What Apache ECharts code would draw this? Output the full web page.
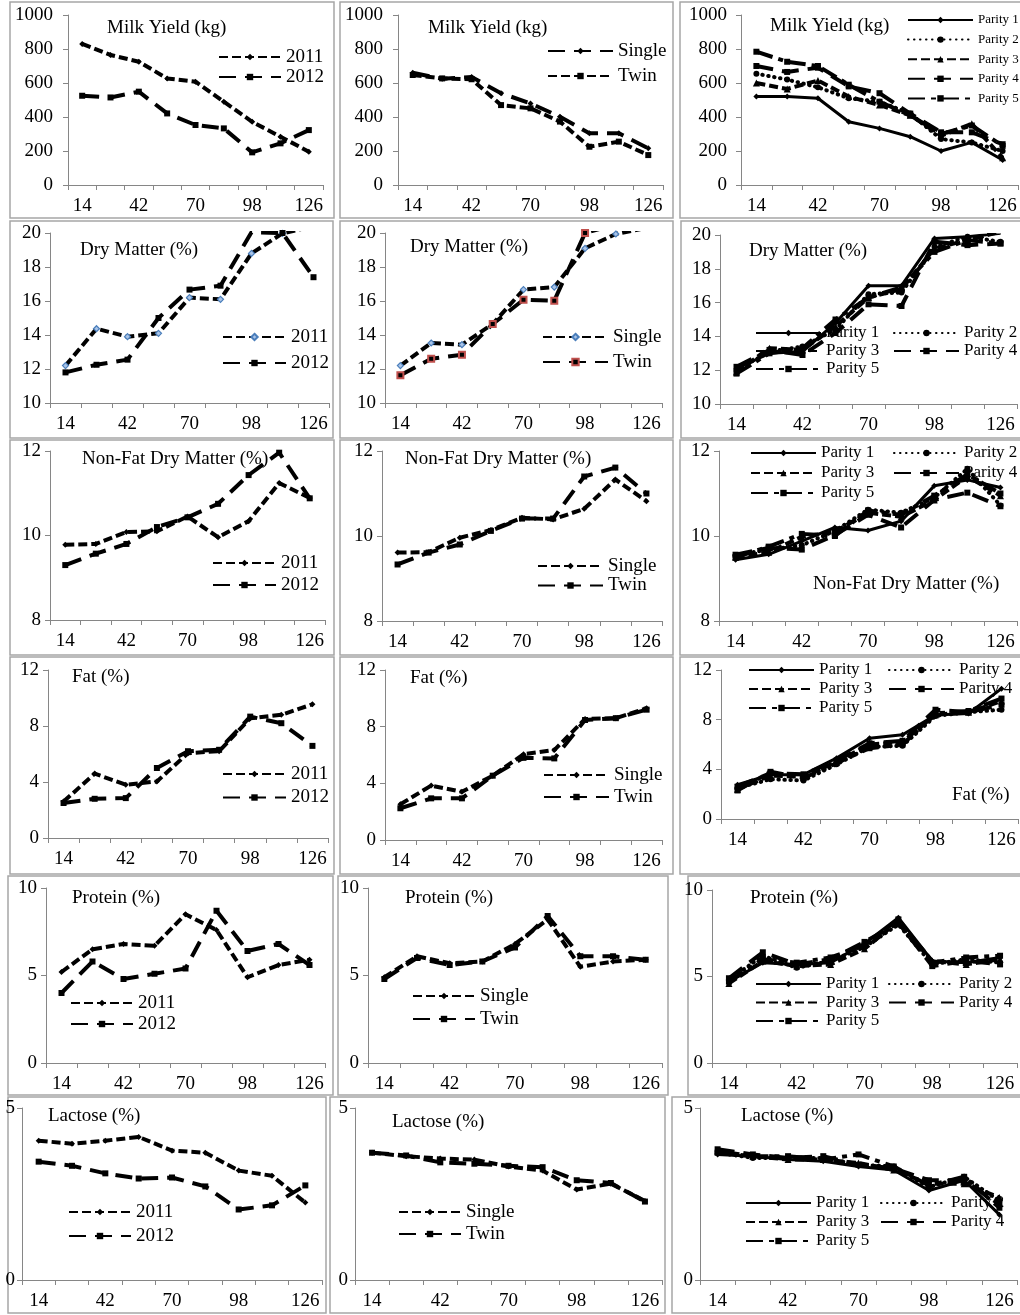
<!DOCTYPE html>
<html><head><meta charset="utf-8">
<script src="https://cdn.jsdelivr.net/npm/echarts@6/dist/echarts.min.js"></script>
<style>html,body{margin:0;padding:0;background:#fff}#c{width:1020px;height:1315px}</style>
</head><body><div id="c"></div>
<script>
// ---------------- data ----------------
const days = ['14','28','42','56','70','84','98','112','126'];

const yMilk = [0, 1000, 200];
const yDry = [10, 20, 2];
const yNfdm = [8, 12, 2];
const yFat = [0, 12, 4];
const yProt = [0, 10, 5];
const yLact = [0, 5, 5];

const milk2011 = [830, 765, 725, 627, 608, 490, 372, 284, 196];
const milk2012 = [525, 515, 549, 421, 353, 333, 192, 245, 323];
const milkSingle = [660, 625, 635, 540, 480, 402, 304, 304, 216];
const milkTwin = [647, 627, 622, 470, 451, 373, 225, 255, 176];
const milkP1 = [520, 520, 510, 372, 333, 284, 200, 251, 147];
const milkP2 = [655, 620, 575, 510, 490, 420, 270, 250, 200];
const milkP3 = [600, 565, 615, 520, 470, 410, 290, 360, 160];
const milkP4 = [700, 665, 690, 580, 540, 420, 310, 310, 240];
const milkP5 = [784, 725, 700, 590, 490, 410, 300, 350, 230];

const dm2011 = [12.2, 14.37, 13.9, 14.1, 16.2, 16.1, 18.8, 19.98, 20.4];
const dm2012 = [11.8, 12.25, 12.55, 15.0, 16.67, 16.9, 20.05, 20.0, 17.4];
const dmSingle = [12.2, 13.53, 13.43, 14.65, 16.67, 16.82, 19.1, 19.94, 20.3];
const dmTwin = [11.63, 12.6, 12.84, 14.65, 16.08, 16.02, 20.0, 20.5, 21.0];
const dmP1 = [12.1, 13.0, 13.1, 14.8, 17.0, 17.0, 19.8, 19.9, 20.1];
const dmP2 = [12.0, 13.1, 13.4, 14.4, 16.5, 16.6, 19.3, 19.9, 19.6];
const dmP3 = [11.9, 13.3, 13.2, 14.6, 16.3, 16.8, 19.2, 19.7, 20.2];
const dmP4 = [12.2, 13.2, 12.9, 14.2, 15.9, 15.8, 19.6, 19.4, 19.5];
const dmP5 = [11.8, 13.0, 13.3, 15.0, 16.3, 16.9, 19.0, 19.7, 19.5];

const nfdm2011 = [9.78, 9.80, 10.08, 10.1, 10.45, 9.96, 10.34, 11.24, 10.89];
const nfdm2012 = [9.3, 9.57, 9.8, 10.2, 10.43, 10.75, 11.43, 11.96, 10.88];
const nfdmSingle = [9.61, 9.62, 9.96, 10.14, 10.43, 10.39, 10.64, 11.33, 10.82];
const nfdmTwin = [9.33, 9.61, 9.8, 10.12, 10.41, 10.41, 11.4, 11.61, 11.0];
const nfdmP1 = [9.44, 9.57, 9.88, 10.2, 10.13, 10.35, 11.18, 11.32, 11.14];
const nfdmP2 = [9.55, 9.68, 9.78, 10.12, 10.62, 10.55, 10.9, 11.58, 10.72];
const nfdmP3 = [9.5, 9.62, 9.98, 10.1, 10.55, 10.45, 10.85, 11.4, 10.95];
const nfdmP4 = [9.56, 9.72, 9.68, 10.02, 10.5, 10.2, 10.85, 11.02, 10.7];
const nfdmP5 = [9.5, 9.75, 10.05, 10.0, 10.6, 10.5, 10.95, 11.45, 11.0];

const fat2011 = [2.6, 4.6, 3.8, 4.04, 6.06, 6.2, 8.55, 8.8, 9.55];
const fat2012 = [2.5, 2.8, 2.85, 5.0, 6.2, 6.3, 8.67, 8.2, 6.58];
const fatSingle = [2.52, 3.84, 3.4, 4.54, 6.05, 6.35, 8.54, 8.6, 9.3];
const fatTwin = [2.24, 2.94, 2.94, 4.54, 5.8, 5.76, 8.47, 8.6, 9.2];
const fatP1 = [2.76, 3.57, 3.57, 4.9, 6.5, 6.78, 8.38, 8.5, 10.5];
const fatP2 = [2.5, 3.2, 3.1, 4.4, 5.8, 5.9, 8.3, 8.6, 8.8];
const fatP3 = [2.4, 3.5, 3.4, 4.6, 6.0, 6.2, 8.4, 8.6, 9.5];
const fatP4 = [2.6, 3.7, 3.6, 4.7, 6.1, 6.3, 8.8, 8.6, 9.2];
const fatP5 = [2.3, 3.8, 3.3, 4.5, 5.7, 6.0, 8.5, 8.7, 9.7];

const prot2011 = [5.2, 6.5, 6.8, 6.7, 8.5, 7.6, 4.9, 5.6, 5.9];
const prot2012 = [4.0, 5.8, 4.8, 5.1, 5.4, 8.7, 6.4, 6.8, 5.6];
const protSingle = [4.9, 6.1, 5.7, 5.8, 6.8, 8.2, 5.5, 5.8, 5.9];
const protTwin = [4.8, 6.0, 5.6, 5.8, 6.6, 8.4, 6.1, 6.1, 5.9];
const protP1 = [4.7, 5.8, 5.7, 5.8, 6.9, 8.4, 5.9, 5.8, 6.1];
const protP2 = [4.8, 6.2, 5.5, 5.9, 6.7, 8.0, 5.7, 6.0, 5.8];
const protP3 = [4.6, 5.9, 5.6, 5.7, 6.6, 8.2, 5.9, 5.7, 6.0];
const protP4 = [4.9, 6.4, 5.7, 6.0, 7.0, 8.1, 5.6, 5.9, 5.7];
const protP5 = [4.7, 6.0, 5.8, 6.1, 6.8, 8.3, 5.8, 6.1, 6.2];

const lact2011 = [4.05, 3.96, 4.05, 4.16, 3.76, 3.7, 3.18, 3.03, 2.25];
const lact2012 = [3.44, 3.32, 3.1, 2.95, 2.98, 2.72, 2.05, 2.17, 2.75];
const lactSingle = [3.7, 3.6, 3.53, 3.5, 3.3, 3.18, 2.63, 2.8, 2.3];
const lactTwin = [3.7, 3.62, 3.42, 3.38, 3.32, 3.28, 2.9, 2.82, 2.28];
const lactP1 = [3.65, 3.6, 3.5, 3.45, 3.3, 3.2, 2.6, 2.9, 1.9];
const lactP2 = [3.7, 3.55, 3.55, 3.55, 3.35, 3.3, 2.7, 3.0, 2.3];
const lactP3 = [3.75, 3.6, 3.5, 3.5, 3.4, 3.2, 2.8, 2.8, 2.4];
const lactP4 = [3.8, 3.65, 3.55, 3.6, 3.35, 3.25, 2.9, 2.9, 2.2];
const lactP5 = [3.7, 3.6, 3.6, 3.5, 3.65, 3.3, 2.75, 3.0, 2.1];

// ---------------- styles ----------------
const FONT = '"Liberation Serif","Times New Roman",serif';
const LINES = {
  dash:        {type: [9, 4], width: 4, cap: 'butt'},
  longDash:    {type: [17, 9], width: 4, cap: 'butt'},
  solid:       {type: 'solid', width: 3, cap: 'butt'},
  dot:         {type: [0.5, 5.5], width: 4, cap: 'round'},
  longDashDot: {type: [17, 6, 5, 6], width: 4, cap: 'butt'}
};
const MARK = {
  black: {color: '#000', borderColor: '#000', borderWidth: 0},
  blue:  {color: '#a9c4e8', borderColor: '#4a7ebb', borderWidth: 1.2},
  red:   {color: '#000', borderColor: '#c0504d', borderWidth: 2}
};
function ser(label, data, line, symbol, mark) {
  return {label, data, line, symbol, mark: mark || 'black'};
}
function parity(a) {
  return [
    ser('Parity 1', a[0], 'solid', 'diamond'),
    ser('Parity 2', a[1], 'dot', 'circle'),
    ser('Parity 3', a[2], 'dash', 'triangle'),
    ser('Parity 4', a[3], 'longDash', 'rect'),
    ser('Parity 5', a[4], 'longDashDot', 'rect')
  ];
}
function yearSer(a, b, m1, m2) {
  return [ser('2011', a, 'dash', 'diamond', m1), ser('2012', b, 'longDash', 'rect', m2)];
}
function typeSer(a, b, m1, m2, swap) {
  return [ser('Single', a, swap ? 'longDash' : 'dash', 'diamond', m1),
          ser('Twin', b, swap ? 'dash' : 'longDash', 'rect', m2)];
}
function two(left, y, stride, w, fs) { return [{left, y, stride, items: [0, 1], w, fs}]; }
function par2(leftA, leftB, y, stride, fs) {
  return [{left: leftA, y, stride, items: [0, 2, 4], w: 65, fs},
          {left: leftB, y, stride, items: [1, 3], w: 65, fs}];
}

// ---------------- layout ----------------
const panels = [
  {title: 'Milk Yield (kg)', tp: [107, 28], grid: [68, 15, 323, 185], y: yMilk, ym: 15,
   series: yearSer(milk2011, milk2012), legends: two(218, 57, 20, 62, 19)},
  {title: 'Milk Yield (kg)', tp: [428, 28], grid: [398, 15, 663, 185], y: yMilk, ym: 15,
   series: typeSer(milkSingle, milkTwin, 'black', 'black', true), legends: two(547, 51, 25, 65, 19)},
  {title: 'Milk Yield (kg)', tp: [770, 26], grid: [741, 15, 1018, 185], y: yMilk, ym: 14,
   series: parity([milkP1, milkP2, milkP3, milkP4, milkP5]),
   legends: [{left: 907, y: 20, stride: 19.6, items: [0, 1, 2, 3, 4], w: 65, fs: 13}]},

  {title: 'Dry Matter (%)', tp: [80, 250], grid: [50, 233, 329, 403], y: yDry, ym: 9,
   series: yearSer(dm2011, dm2012, 'blue', 'black'), legends: two(222, 337, 26, 63, 19)},
  {title: 'Dry Matter (%)', tp: [410, 247], grid: [385, 233, 662, 403], y: yDry, ym: 9,
   series: typeSer(dmSingle, dmTwin, 'blue', 'red'), legends: two(542, 337, 25, 65, 19)},
  {title: 'Dry Matter (%)', tp: [749, 251], grid: [720, 235, 1017, 404], y: yDry, ym: 9,
   series: parity([dmP1, dmP2, dmP3, dmP4, dmP5]), legends: par2(755, 893, 333, 18, 17)},

  {title: 'Non-Fat Dry Matter (%)', tp: [82, 459], grid: [50, 451, 325, 620], y: yNfdm, ym: 9,
   series: yearSer(nfdm2011, nfdm2012), legends: two(212, 563, 22, 63, 19)},
  {title: 'Non-Fat Dry Matter (%)', tp: [405, 459], grid: [382, 451, 662, 621], y: yNfdm, ym: 9,
   series: typeSer(nfdmSingle, nfdmTwin), legends: two(537, 566, 19.5, 65, 19)},
  {title: 'Non-Fat Dry Matter (%)', tp: [813, 584], grid: [719, 451, 1017, 621], y: yNfdm, ym: 9,
   series: parity([nfdmP1, nfdmP2, nfdmP3, nfdmP4, nfdmP5]), legends: par2(750, 893, 453, 20, 17)},

  {title: 'Fat (%)', tp: [72, 677], grid: [48, 670, 328, 838], y: yFat, ym: 9,
   series: yearSer(fat2011, fat2012), legends: two(222, 774, 23.5, 63, 19)},
  {title: 'Fat (%)', tp: [410, 678], grid: [385, 670, 662, 840], y: yFat, ym: 9,
   series: typeSer(fatSingle, fatTwin), legends: two(543, 775, 22, 65, 19)},
  {title: 'Fat (%)', tp: [952, 795], grid: [721, 670, 1018, 819], y: yFat, ym: 9,
   series: parity([fatP1, fatP2, fatP3, fatP4, fatP5]), legends: par2(748, 888, 670, 19, 17)},

  {title: 'Protein (%)', tp: [72, 898], grid: [46, 888, 325, 1063], y: yProt, ym: 9,
   series: yearSer(prot2011, prot2012), legends: two(70, 1003, 21, 62, 19)},
  {title: 'Protein (%)', tp: [405, 898], grid: [368, 888, 662, 1063], y: yProt, ym: 9,
   series: typeSer(protSingle, protTwin), legends: two(412, 996, 23, 62, 19)},
  {title: 'Protein (%)', tp: [750, 898], grid: [712, 890, 1017, 1063], y: yProt, ym: 9,
   series: parity([protP1, protP2, protP3, protP4, protP5]), legends: par2(755, 888, 984, 18.5, 17)},

  {title: 'Lactose (%)', tp: [48, 1116], grid: [22, 1108, 322, 1280], y: yLact, ym: 7,
   series: yearSer(lact2011, lact2012), legends: two(68, 1212, 24, 62, 19)},
  {title: 'Lactose (%)', tp: [392, 1122], grid: [355, 1108, 662, 1280], y: yLact, ym: 7,
   series: typeSer(lactSingle, lactTwin), legends: two(398, 1212, 22, 62, 19)},
  {title: 'Lactose (%)', tp: [741, 1116], grid: [700, 1108, 1017, 1280], y: yLact, ym: 7,
   series: parity([lactP1, lactP2, lactP3, lactP4, lactP5]), legends: par2(745, 880, 1203, 19, 17)}
];

const borders = [
  [10, 2, 334, 218], [340, 2, 673, 218], [680, 2, 1030, 218],
  [10, 221, 333, 438], [340, 221, 673, 438], [681, 221, 1030, 438],
  [10, 440, 334, 655], [340, 440, 673, 655], [680, 440, 1030, 655],
  [10, 657, 334, 874], [340, 657, 673, 874], [680, 657, 1030, 874],
  [8, 876, 333, 1095], [338, 876, 668, 1095], [688, 876, 1030, 1095],
  [8, 1097, 326, 1313], [330, 1097, 665, 1313], [672, 1097, 1030, 1313]
];

// ---------------- build option ----------------
const grid = [], xAxis = [], yAxis = [], series = [], legend = [], graphic = [];
const AX = '#868686';
borders.forEach(b => graphic.push({type: 'rect', silent: true, z: 0,
  shape: {x: b[0], y: b[1], width: b[2] - b[0], height: b[3] - b[1]},
  style: {fill: 'none', stroke: '#a6a6a6', lineWidth: 1.5}}));

panels.forEach((p, i) => {
  const g = p.grid;
  grid.push({left: g[0], top: g[1], width: g[2] - g[0], height: g[3] - g[1],
             containLabel: false, outerBoundsMode: 'none', show: false});
  xAxis.push({type: 'category', gridIndex: i, data: days, boundaryGap: true,
    axisLine: {show: true, lineStyle: {color: AX, width: 1}},
    axisTick: {show: true, interval: 0, length: 5, lineStyle: {color: AX}},
    axisLabel: {interval: 1, color: '#000', fontFamily: FONT, fontSize: 19, margin: 12, hideOverlap: false},
    splitLine: {show: false}});
  yAxis.push({type: 'value', gridIndex: i, min: p.y[0], max: p.y[1], interval: p.y[2],
    axisLine: {show: true, lineStyle: {color: AX, width: 1}},
    axisTick: {show: true, length: 5, lineStyle: {color: AX}},
    axisLabel: {color: '#000', fontFamily: FONT, fontSize: 19, margin: p.ym, formatter: v => String(v)},
    splitLine: {show: false}});
  const names = [];
  p.series.forEach(s => {
    const nm = s.label + '|' + i;
    names.push(nm);
    const L = LINES[s.line];
    const M = MARK[s.mark];
    series.push({type: 'line', name: nm, xAxisIndex: i, yAxisIndex: i, data: s.data,
      symbol: s.symbol, symbolSize: s.symbol === 'triangle' ? 7 : 6, showSymbol: true, showAllSymbol: true,
      clip: true, animation: false, silent: true,
      lineStyle: {color: '#000', width: L.width, type: L.type, cap: L.cap},
      itemStyle: {color: M.color, borderColor: M.borderColor, borderWidth: M.borderWidth}});
  });
  p.legends.forEach(lg => {
    legend.push({orient: 'vertical', left: lg.left, top: lg.y - lg.fs / 2, padding: 0,
      itemWidth: lg.w, itemHeight: 8, itemGap: lg.stride - lg.fs, selectedMode: false,
      data: lg.items.map(k => names[k]),
      formatter: n => n.split('|')[0],
      textStyle: {color: '#000', fontFamily: FONT, fontSize: lg.fs}});
  });
  graphic.push({type: 'text', silent: true, z: 10, x: p.tp[0], y: p.tp[1],
    style: {text: p.title, fill: '#000', fontFamily: FONT, fontSize: 19, verticalAlign: 'middle', align: 'left'}});
});

const chart = echarts.init(document.getElementById('c'), null, {renderer: 'canvas'});
chart.setOption({animation: false, backgroundColor: '#fff', grid, xAxis, yAxis, series, legend, graphic, tooltip: {show: false}});
</script></body></html>
